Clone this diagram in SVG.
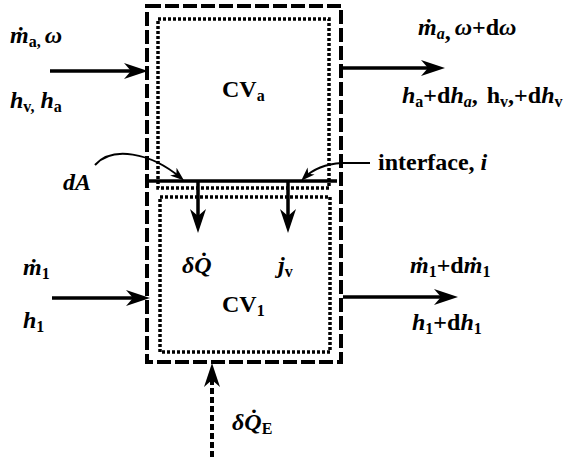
<svg xmlns="http://www.w3.org/2000/svg" width="570" height="464" viewBox="0 0 570 464">
<defs>
<style>
text{font-family:"Liberation Serif","Times New Roman",serif;font-size:24px;font-weight:bold;fill:#000}
.i{font-style:italic}
.s{font-size:16px}
.dash{fill:none;stroke:#000;stroke-width:4;stroke-dasharray:14 4}
.dot{fill:none;stroke:#000;stroke-width:3.5;stroke-dasharray:3 2}
.ln{fill:none;stroke:#000;stroke-width:3.5}
.cv{fill:none;stroke:#000;stroke-width:2}
</style>
<marker id="ah" viewBox="-24 -9 24 18" markerWidth="24" markerHeight="18" refX="-12" refY="0" orient="auto" markerUnits="userSpaceOnUse">
<path d="M0,0 L-24,-8 L-17,0 L-24,8 Z" fill="#000"/>
</marker>
<marker id="ahs" viewBox="-14 -6 14 12" markerWidth="14" markerHeight="12" refX="-4" refY="0" orient="auto" markerUnits="userSpaceOnUse">
<path d="M0,0 L-14,-5 L-10,0 L-14,5 Z" fill="#000"/>
</marker>
</defs>

<g id="outer-cv">
<rect class="dash" x="147" y="6" width="194" height="356"/>
</g>
<g id="cv-a">
<rect class="dot" x="158" y="19" width="171" height="169"/>
<text x="222" y="97">CV<tspan class="s" dy="4">a</tspan></text>
</g>
<g id="cv-l">
<rect class="dot" x="160" y="197" width="170" height="155"/>
<text x="222" y="312">CV<tspan class="s" dy="4">1</tspan></text>
</g>
<g id="interface">
<line class="ln" x1="148" y1="181" x2="337" y2="181"/>
</g>

<g id="connectors">
<line class="ln" x1="50" y1="71" x2="136" y2="71" marker-end="url(#ah)"/>
<line class="ln" x1="342" y1="68" x2="433" y2="68" marker-end="url(#ah)"/>
<line class="ln" x1="52" y1="298" x2="138" y2="298" marker-end="url(#ah)"/>
<line class="ln" x1="343" y1="297" x2="446" y2="297" marker-end="url(#ah)"/>
<line class="ln" x1="198" y1="181" x2="198" y2="221" marker-end="url(#ah)"/>
<line class="ln" x1="288" y1="181" x2="288" y2="221" marker-end="url(#ah)"/>
<line x1="212" y1="457" x2="212" y2="375" stroke="#000" stroke-width="4" stroke-dasharray="6 3" marker-end="url(#ah)"/>
<path class="cv" d="M95,165 C112,146 150,152 181,178" marker-end="url(#ahs)"/>
<path class="cv" d="M370,163 L342,163 C325,164 312,170 304,178" marker-end="url(#ahs)"/>
</g>

<g id="labels">
<text x="10" y="43"><tspan class="i">ṁ</tspan><tspan class="s" dy="4">a,</tspan><tspan class="i" dy="-4" dx="4">ω</tspan></text>
<text x="10" y="108"><tspan class="i">h</tspan><tspan class="s" dy="4">v,</tspan><tspan class="i" dy="-4" dx="6">h</tspan><tspan class="s" dy="4">a</tspan></text>
<text x="418" y="35"><tspan class="i">ṁ</tspan><tspan class="s i" dy="4">a</tspan><tspan>,</tspan><tspan class="i" dy="-4" dx="4">ω</tspan>+d<tspan class="i">ω</tspan></text>
<text x="402" y="103"><tspan class="i">h</tspan><tspan class="s" dy="4">a</tspan><tspan dy="-4">+d</tspan><tspan class="i">h</tspan><tspan class="s i" dy="4">a</tspan><tspan dy="-4">, </tspan><tspan dx="3">h</tspan><tspan class="s" dy="4">v</tspan><tspan dy="-4">,+d</tspan><tspan class="i">h</tspan><tspan class="s" dy="4">v</tspan></text>
<text x="378" y="170">interface, <tspan class="i">i</tspan></text>
<text class="i" x="63" y="190">dA</text>
<text x="182" y="273"><tspan class="i">δ</tspan><tspan class="i">Q̇</tspan></text>
<text x="278" y="273"><tspan class="i">j</tspan><tspan class="s" dy="4">v</tspan></text>
<text x="23" y="275"><tspan class="i">ṁ</tspan><tspan class="s" dy="4">1</tspan></text>
<text x="23" y="328"><tspan class="i">h</tspan><tspan class="s" dy="4">1</tspan></text>
<text x="410" y="273"><tspan class="i">ṁ</tspan><tspan class="s" dy="4">1</tspan><tspan dy="-4">+d</tspan><tspan class="i">ṁ</tspan><tspan class="s" dy="4">1</tspan></text>
<text x="412" y="330"><tspan class="i">h</tspan><tspan class="s" dy="4">1</tspan><tspan dy="-4">+d</tspan><tspan class="i">h</tspan><tspan class="s" dy="4">1</tspan></text>
<text x="232" y="430"><tspan class="i">δ</tspan><tspan class="i">Q̇</tspan><tspan class="s" dy="4">E</tspan></text>
</g>
</svg>
